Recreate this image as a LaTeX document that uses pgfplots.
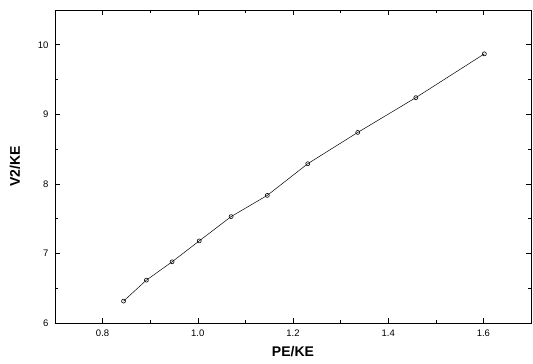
\documentclass[border=0pt]{standalone}
\usepackage{fontspec}
\setmainfont{Liberation Sans}
\usepackage{pgfplots}
\pgfplotsset{compat=1.18}
\begin{document}
\begin{tikzpicture}[x=1pt,y=1pt]
\path[use as bounding box] (-55,-41) rectangle (478,323);
\begin{axis}[
  at={(0,0)}, anchor=south west,
  scale only axis, width=476pt, height=313pt,
  xmin=0.7, xmax=1.7, ymin=6, ymax=10.5,
  xtick={0.8,1.0,1.2,1.4,1.6},
  ytick={6,7,8,9,10},
  minor xtick={0.9,1.1,1.3,1.5},
  minor ytick={6.5,7.5,8.5,9.5,10.5},
  xticklabels={0.8,1.0,1.2,1.4,1.6},
  yticklabels={6,7,8,9,10},
  tick align=inside,
  major tick length=5pt, minor tick length=3pt,
  axis line style={line width=0.8pt},
  every tick/.style={black, line width=0.6pt},
  ticklabel style={font=\fontsize{9.5}{10}\selectfont},
  xlabel={\textbf{PE/KE}},
  ylabel={\textbf{V2/KE}},
  label style={font=\fontsize{14}{16}\selectfont},
  xlabel style={at={(axis description cs:0.5,0)}, anchor=center, yshift=-29pt},
  ylabel style={at={(axis description cs:0,0.5)}, anchor=center, yshift=40pt},
  xticklabel style={yshift=-3pt},
  yticklabel style={xshift=-3pt},
]
\addplot[black, line width=0.5pt, mark=o, mark size=2pt, mark options={line width=0.6pt}] coordinates {
(0.844,6.315) (0.892,6.616) (0.946,6.88) (1.003,7.18) (1.070,7.53)
(1.146,7.835) (1.231,8.29) (1.336,8.74) (1.458,9.24) (1.602,9.87)
};
\end{axis}
\end{tikzpicture}
\end{document}
